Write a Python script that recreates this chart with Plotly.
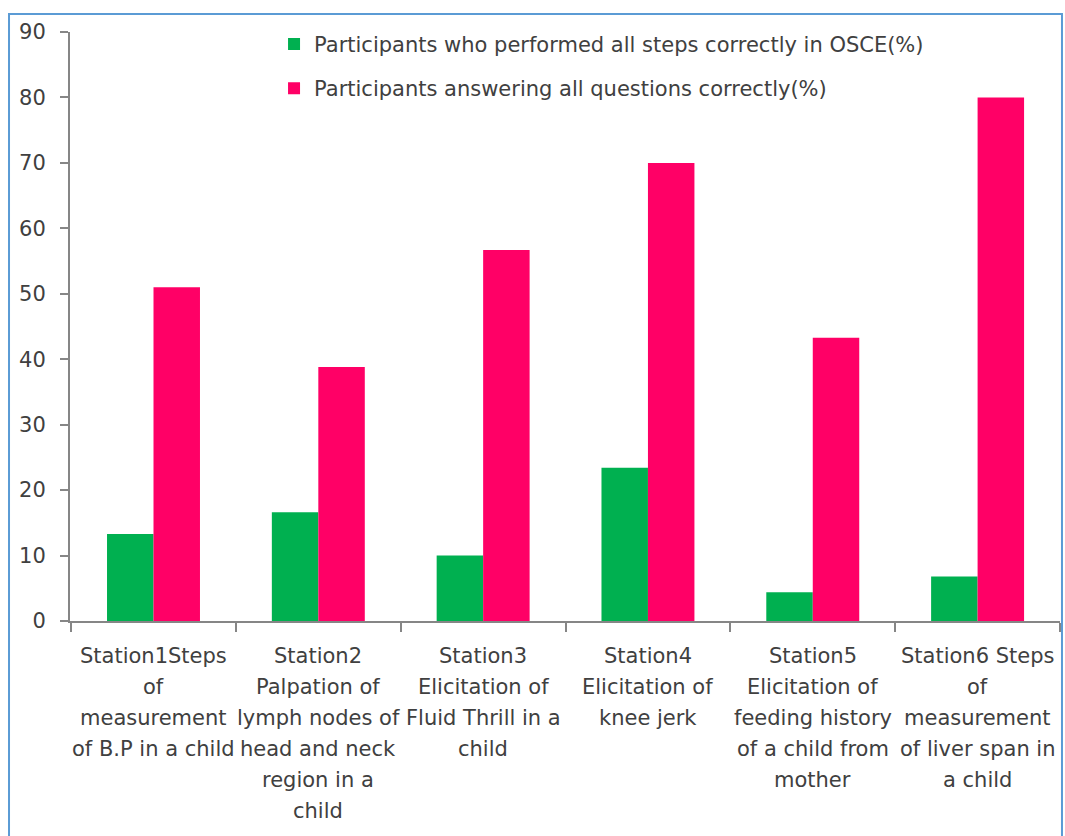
import plotly.graph_objects as go

# Station labels (one list entry per printed line)
stations = ["Station1", "Station2", "Station3", "Station4", "Station5", "Station6"]
station_lines = [
    ["Station1Steps", "of", "measurement", "of B.P in a child"],
    ["Station2", "Palpation of", "lymph nodes of", "head and neck", "region in a", "child"],
    ["Station3", "Elicitation of", "Fluid Thrill in a", "child"],
    ["Station4", "Elicitation of", "knee jerk"],
    ["Station5", "Elicitation of", "feeding history", "of a child from", "mother"],
    ["Station6 Steps", "of", "measurement", "of liver span in", "a child"],
]

osce_correct = [13.3, 16.6, 10.0, 23.4, 4.4, 6.8]
questions_correct = [51.0, 38.8, 56.7, 70.0, 43.3, 80.0]

series_names = [
    "Participants who performed all steps correctly in OSCE(%)",
    "Participants answering all questions correctly(%)",
]

y_ticks = [0, 10, 20, 30, 40, 50, 60, 70, 80, 90]

FONT = "DejaVu Sans"
FONT_SIZE = 21
TEXT_COLOR = "#404040"
AXIS_COLOR = "#868686"

fig = go.Figure()
fig.add_trace(go.Bar(
    x=stations, y=osce_correct, name=series_names[0],
    marker=dict(color="#00B050", line=dict(width=0)),
    legendgroup="a",
))
fig.add_trace(go.Bar(
    x=stations, y=questions_correct, name=series_names[1],
    marker=dict(color="#FF0066", line=dict(width=0)),
    legendgroup="b",
))

# Multi-line category labels under the axis
annotations = []
for st, lines in zip(stations, station_lines):
    for i, line in enumerate(lines):
        annotations.append(dict(
            x=st, y=0, xref="x", yref="y",
            text=line, showarrow=False,
            xanchor="center", yanchor="middle",
            yshift=-(35 + 31 * i),
            font=dict(family=FONT, size=FONT_SIZE, color=TEXT_COLOR),
        ))

fig.update_layout(
    width=1065, height=836,
    margin=dict(l=70, r=5, t=32, b=215),
    paper_bgcolor="white", plot_bgcolor="white",
    barmode="group", bargap=0.436, bargroupgap=0,
    font=dict(family=FONT, size=FONT_SIZE, color=TEXT_COLOR),
    legend=dict(
        x=0.2061, y=1.014, xanchor="left", yanchor="top",
        bgcolor="rgba(0,0,0,0)", traceorder="grouped",
        tracegroupgap=14, font=dict(family=FONT, size=FONT_SIZE, color=TEXT_COLOR),
    ),
    annotations=annotations,
    shapes=[dict(
        type="rect", xref="paper", yref="paper",
        x0=-0.0616, x1=1.002, y0=-0.4, y1=1.0306,
        line=dict(color="#5B9BD5", width=2), fillcolor="rgba(0,0,0,0)",
        layer="below",
    )],
)

fig.update_xaxes(
    showticklabels=False, showline=True, linecolor=AXIS_COLOR, linewidth=2,
    ticks="outside", tickson="boundaries", ticklen=9, tickcolor=AXIS_COLOR,
    tickwidth=2, showgrid=False, zeroline=False,
)
fig.update_yaxes(
    range=[0, 90], tickvals=y_ticks, ticks="outside", ticklen=8,
    tickcolor=AXIS_COLOR, tickwidth=2, showline=True, linecolor=AXIS_COLOR,
    linewidth=2, showgrid=False, zeroline=False, ticklabelstandoff=10,
    tickfont=dict(family=FONT, size=FONT_SIZE, color=TEXT_COLOR),
)

fig.write_html("out.html")
